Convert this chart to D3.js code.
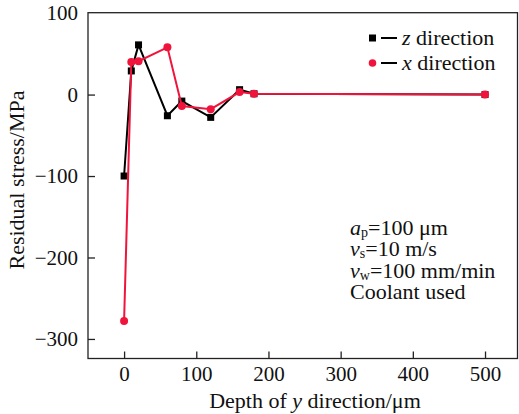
<!DOCTYPE html>
<html>
<head>
<meta charset="utf-8">
<script src="https://cdn.jsdelivr.net/npm/d3@7"></script>
<style>
  html, body { margin: 0; padding: 0; background: #fff; }
  svg { display: block; }
  svg text { font-family: "Liberation Serif", "Times New Roman", "DejaVu Serif", serif; fill: #111; }
</style>
</head>
<body>
<svg id="chart" width="519" height="414"></svg>
<script>
// Residual stress profiles along depth
const depth = [0, 10, 20, 60, 80, 120, 160, 180, 500];
const zStress = [-100, 29, 61, -26, -8, -28, 6, 1, 0];
const xStress = [-278, 40, 41, 58, -14, -18, 3, 1, 0];
const xTicks = [0, 100, 200, 300, 400, 500];
const yTicks = [100, 0, -100, -200, -300];

const FONT = "Liberation Serif, Times New Roman, serif";
const svg = d3.select("#chart").attr("font-family", FONT);
const margin = { left: 88, right: 1.5, top: 12.7, bottom: 55.5 };
const W = 519, H = 414;

const x = d3.scaleLinear().domain([-50, 545]).range([margin.left, W - margin.right]);
const y = d3.scaleLinear().domain([-324, 100.5]).range([H - margin.bottom, margin.top]);

const g = svg.append("g");

// frame
g.append("rect")
  .attr("x", x.range()[0]).attr("y", y.range()[1])
  .attr("width", x.range()[1] - x.range()[0])
  .attr("height", y.range()[0] - y.range()[1])
  .attr("fill", "none").attr("stroke", "#222").attr("stroke-width", 1.3);

// axes with inward ticks
const xAxis = g.append("g").attr("transform", `translate(0,${y.range()[0]})`)
  .call(d3.axisBottom(x).tickValues(xTicks).tickSizeInner(-7).tickSizeOuter(0).tickPadding(8));
const yAxis = g.append("g").attr("transform", `translate(${x.range()[0]},0)`)
  .call(d3.axisLeft(y).tickValues(yTicks).tickSizeInner(-7).tickSizeOuter(0).tickPadding(10)
    .tickFormat(d => d < 0 ? "\u2212" + Math.abs(d) : d));
[xAxis, yAxis].forEach(a => {
  a.attr("font-family", FONT);
  a.select(".domain").remove();
  a.selectAll(".tick line").attr("stroke", "#222").attr("stroke-width", 1.3);
  a.selectAll(".tick text").attr("font-size", 21).attr("fill", "#111");
});
yAxis.selectAll(".tick").filter(d => d === 100).select("line").remove();

// axis titles
const xt = svg.append("text").attr("x", 315).attr("y", 408).attr("text-anchor", "middle").attr("font-size", 22);
xt.append("tspan").text("Depth of ");
xt.append("tspan").attr("font-style", "italic").text("y");
xt.append("tspan").text(" direction/\u03bcm");

svg.append("text").attr("transform", "translate(24,180) rotate(-90)")
  .attr("text-anchor", "middle").attr("font-size", 22).text("Residual stress/MPa");

// series
const line = d3.line().x(d => x(d[0])).y(d => y(d[1]));
const zData = depth.map((d, i) => [d, zStress[i]]);
const xData = depth.map((d, i) => [d, xStress[i]]);

g.append("path").datum(zData).attr("d", line)
  .attr("fill", "none").attr("stroke", "#000").attr("stroke-width", 2);
g.selectAll(".zpt").data(zData).enter().append("rect")
  .attr("x", d => x(d[0]) - 3.5).attr("y", d => y(d[1]) - 3.5)
  .attr("width", 7).attr("height", 7).attr("fill", "#000");

g.append("path").datum(xData).attr("d", line)
  .attr("fill", "none").attr("stroke", "#f0143c").attr("stroke-width", 2);
g.selectAll(".xpt").data(xData).enter().append("circle")
  .attr("cx", d => x(d[0])).attr("cy", d => y(d[1])).attr("r", 4)
  .attr("fill", "#f0143c");

// legend
const legend = [
  { label: "z", color: "#000", shape: "square", yy: 38 },
  { label: "x", color: "#f0143c", shape: "circle", yy: 63 }
];
legend.forEach(l => {
  if (l.shape === "square") {
    svg.append("rect").attr("x", 369).attr("y", l.yy - 3.5).attr("width", 7).attr("height", 7).attr("fill", l.color);
  } else {
    svg.append("circle").attr("cx", 372.5).attr("cy", l.yy).attr("r", 3.8).attr("fill", l.color);
  }
  svg.append("line").attr("x1", 381).attr("x2", 397).attr("y1", l.yy).attr("y2", l.yy)
    .attr("stroke", "#000").attr("stroke-width", 2);
  const t = svg.append("text").attr("x", 402).attr("y", l.yy + 7).attr("font-size", 22);
  t.append("tspan").attr("font-style", "italic").text(l.label);
  t.append("tspan").text(" direction");
});

// machining conditions
const notes = svg.append("g").attr("font-size", 22);
const n1 = notes.append("text").attr("x", 350).attr("y", 235);
n1.append("tspan").attr("font-style", "italic").text("a");
n1.append("tspan").attr("font-size", 14).attr("dy", 2).text("p");
n1.append("tspan").attr("dy", -2).text("=100 \u03bcm");
const n2 = notes.append("text").attr("x", 350).attr("y", 256);
n2.append("tspan").attr("font-style", "italic").text("v");
n2.append("tspan").attr("font-size", 14).attr("dy", 2).text("s");
n2.append("tspan").attr("dy", -2).text("=10 m/s");
const n3 = notes.append("text").attr("x", 350).attr("y", 278);
n3.append("tspan").attr("font-style", "italic").text("v");
n3.append("tspan").attr("font-size", 14).attr("dy", 2).text("w");
n3.append("tspan").attr("dy", -2).text("=100 mm/min");
notes.append("text").attr("x", 350).attr("y", 299).text("Coolant used");
</script>
</body>
</html>
